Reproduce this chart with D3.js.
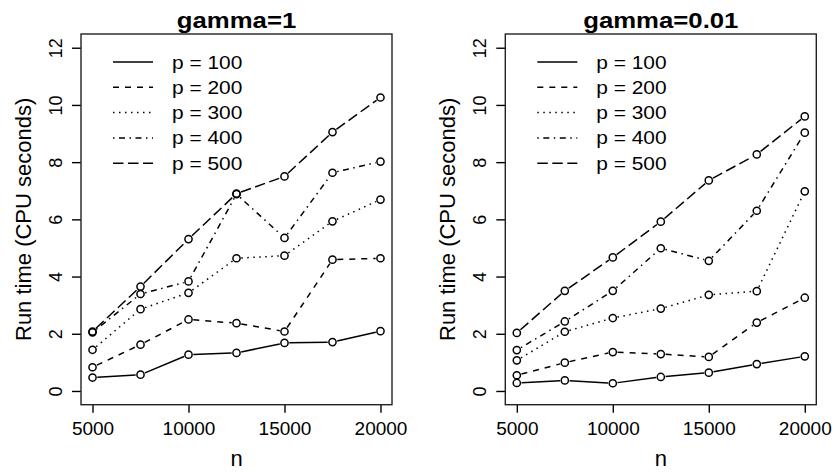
<!DOCTYPE html>
<html>
<head>
<meta charset="utf-8">
<script src="https://cdn.jsdelivr.net/npm/d3@7"></script>
<style>
  body { margin: 0; background: #fff; }
  text { font-family: "Liberation Sans", Arial, Helvetica, sans-serif; fill: #000; }
</style>
</head>
<body>
<svg id="chart" width="833" height="472"></svg>
<script>
// sample sizes on the x axis
var nValues = [5000, 7500, 10000, 12500, 15000, 17500, 20000]
var seriesLabels = ['p = 100', 'p = 200', 'p = 300', 'p = 400', 'p = 500']
var xTicks = [5000, 10000, 15000, 20000]
var yTicks = [0, 2, 4, 6, 8, 10, 12]

// run times (CPU seconds), gamma = 1
var gamma1P100 = [0.47, 0.57, 1.27, 1.33, 1.68, 1.71, 2.09]
var gamma1P200 = [0.83, 1.62, 2.50, 2.37, 2.08, 4.59, 4.64]
var gamma1P300 = [1.44, 2.86, 3.43, 4.64, 4.73, 5.93, 6.69]
var gamma1P400 = [2.05, 3.39, 3.83, 6.88, 5.35, 7.63, 8.02]
var gamma1P500 = [2.08, 3.65, 5.31, 6.90, 7.50, 9.05, 10.26]

// run times (CPU seconds), gamma = 0.01
var gamma001P100 = [0.28, 0.37, 0.27, 0.49, 0.64, 0.94, 1.21]
var gamma001P200 = [0.55, 0.99, 1.36, 1.29, 1.19, 2.39, 3.26]
var gamma001P300 = [1.07, 2.07, 2.55, 2.88, 3.36, 3.49, 6.98]
var gamma001P400 = [1.43, 2.43, 3.50, 4.99, 4.55, 6.30, 9.03]
var gamma001P500 = [2.03, 3.50, 4.67, 5.92, 7.36, 8.27, 9.60]

// R style line types: solid, dashed, dotted, dotdash, longdash
var dashes = [null, '6,6', '1.5,4.5', '1.5,4.5,6,4.5', '10.5,4.5']

var svg = d3.select('#chart')

var panels = [
	{ title: 'gamma=1', series: [gamma1P100, gamma1P200, gamma1P300, gamma1P400, gamma1P500], left: 81 },
	{ title: 'gamma=0.01', series: [gamma001P100, gamma001P200, gamma001P300, gamma001P400, gamma001P500], left: 505.3 }
]

var plotW = 311
var plotTop = 34
var plotBottom = 404.7
var r = 3.6

panels.forEach(function (panel) {
	var g = svg.append('g')

	var xScale = d3.scaleLinear()
		.domain([4400, 20600])
		.range([panel.left, panel.left + plotW])
	var yScale = d3.scaleLinear()
		.domain([-0.48, 12.48])
		.range([plotBottom, plotTop])

	// x axis
	var xAxis = g.append('g')
		.attr('transform', 'translate(0,' + plotBottom + ')')
		.call(d3.axisBottom(xScale).tickValues(xTicks).tickSize(8).tickFormat(d3.format('d')))
	xAxis.select('.domain').remove()
	xAxis.selectAll('line').attr('stroke', '#000').attr('stroke-width', 1.4)
	xAxis.selectAll('text')
		.attr('y', 30)
		.attr('dy', null)
		.style('font-size', '19px')
		.style('font-family', '"Liberation Sans", Arial, sans-serif')
		.attr('fill', '#000')

	// y axis
	var yAxis = g.append('g')
		.attr('transform', 'translate(' + panel.left + ',0)')
		.call(d3.axisLeft(yScale).tickValues(yTicks).tickSize(9))
	yAxis.select('.domain').remove()
	yAxis.selectAll('line').attr('stroke', '#000').attr('stroke-width', 1.4)
	yAxis.selectAll('text')
		.attr('x', null)
		.attr('dy', null)
		.attr('transform', 'translate(-19.5,0) rotate(-90)')
		.attr('text-anchor', 'middle')
		.style('font-size', '18px')
		.style('font-family', '"Liberation Sans", Arial, sans-serif')
		.attr('fill', '#000')

	// box
	g.append('rect')
		.attr('x', panel.left)
		.attr('y', plotTop)
		.attr('width', plotW)
		.attr('height', plotBottom - plotTop)
		.attr('fill', 'none')
		.attr('stroke', '#222')
		.attr('stroke-width', 1.4)

	// title
	g.append('text')
		.attr('transform', 'translate(' + (panel.left + plotW / 2) + ',27.5) scale(1.17,1)')
		.attr('text-anchor', 'middle')
		.style('font-size', '22px')
		.style('font-weight', 'bold')
		.text(panel.title)

	// axis titles
	g.append('text')
		.attr('x', panel.left + plotW / 2)
		.attr('y', 466)
		.attr('text-anchor', 'middle')
		.style('font-size', '22px')
		.text('n')
	g.append('text')
		.attr('transform', 'translate(' + (panel.left - 50) + ',' + ((plotTop + plotBottom) / 2) + ') rotate(-90)')
		.attr('text-anchor', 'middle')
		.style('font-size', '22px')
		.text('Run time (CPU seconds)')

	// lines, type = "b": segments stop short of the points
	panel.series.forEach(function (vals, si) {
		var pts = vals.map(function (v, i) { return [xScale(nValues[i]), yScale(v)] })
		var segs = d3.pairs(pts).map(function (pair) {
			var dx = pair[1][0] - pair[0][0]
			var dy = pair[1][1] - pair[0][1]
			var len = Math.sqrt(dx * dx + dy * dy)
			var gap = r + 1.2
			if (len <= 2 * gap) return null
			var ux = dx / len, uy = dy / len
			return [pair[0][0] + ux * gap, pair[0][1] + uy * gap, pair[1][0] - ux * gap, pair[1][1] - uy * gap]
		}).filter(function (s) { return s })

		g.append('g').selectAll('line')
			.data(segs)
			.enter()
			.append('line')
			.attr('x1', function (d) { return d[0] })
			.attr('y1', function (d) { return d[1] })
			.attr('x2', function (d) { return d[2] })
			.attr('y2', function (d) { return d[3] })
			.attr('stroke', '#000')
			.attr('stroke-width', 1.5)
			.attr('stroke-dasharray', dashes[si])

		g.append('g').selectAll('circle')
			.data(vals)
			.enter()
			.append('circle')
			.attr('cx', function (d, i) { return xScale(nValues[i]) })
			.attr('cy', function (d) { return yScale(d) })
			.attr('r', r)
			.attr('fill', 'none')
			.attr('stroke', '#000')
			.attr('stroke-width', 1.5)
	})

	// legend
	var legend = g.append('g')
		.attr('transform', 'translate(' + (panel.left + 32) + ',' + (plotTop + 28) + ')')
	seriesLabels.forEach(function (label, i) {
		legend.append('line')
			.attr('x1', 0)
			.attr('x2', 40)
			.attr('y1', i * 25.3)
			.attr('y2', i * 25.3)
			.attr('stroke', '#000')
			.attr('stroke-width', 1.5)
			.attr('stroke-dasharray', dashes[i])
		legend.append('text')
			.attr('transform', 'translate(59,' + (i * 25.3 + 6.5) + ') scale(1.1,1)')
			.style('font-size', '19px')
			.text(label)
	})
})
</script>
</body>
</html>
